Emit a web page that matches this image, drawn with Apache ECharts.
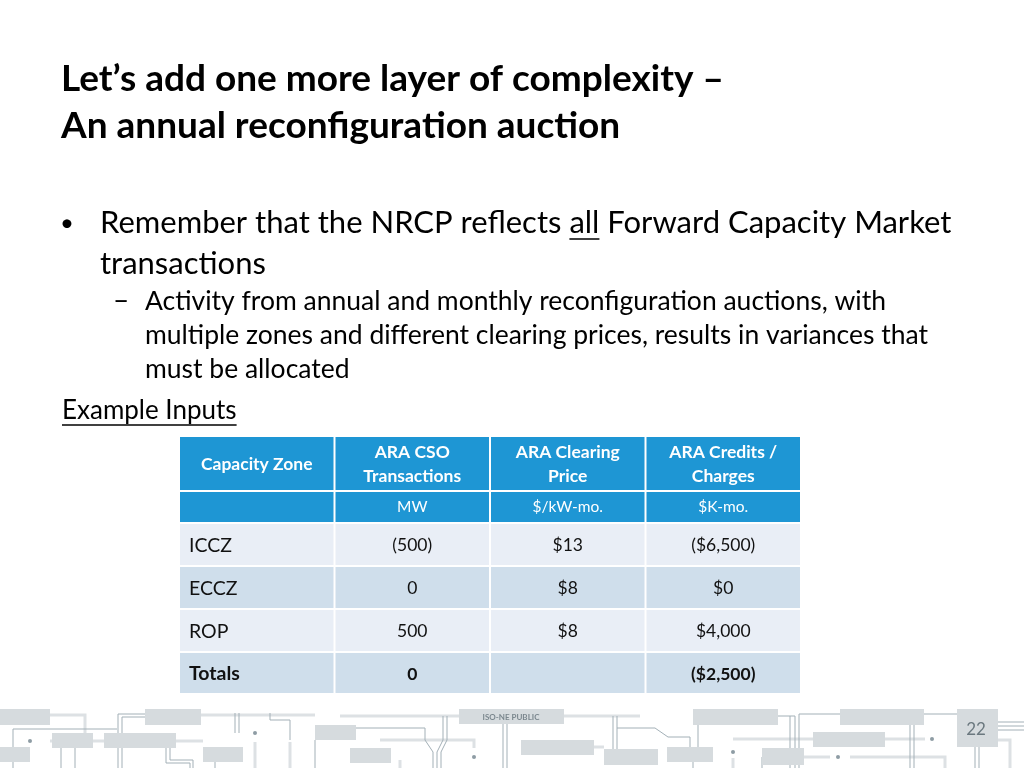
<!DOCTYPE html>
<html><head><meta charset="utf-8">
<script src="https://cdn.jsdelivr.net/npm/echarts@6/dist/echarts.min.js"></script>
<style>html,body{margin:0;padding:0;background:#fff}#c{width:1024px;height:768px}</style>
</head><body><div id="c"></div>
<script>
// ---- data ----
const columns = ['Capacity Zone', 'ARA CSO\nTransactions', 'ARA Clearing\nPrice', 'ARA Credits /\nCharges'];
const units = ['', 'MW', '$/kW-mo.', '$K-mo.'];
const zones = ['ICCZ', 'ECCZ', 'ROP', 'Totals'];
const csoMW = [-500, 0, 500, 0];
const clearingPrice = [13, 8, 8, null];
const credits = [-6500, 0, 4000, -2500];

// ---- layout ----
const FONT = 'Lato, "Open Sans", sans-serif';
const rowHeights = [55, 32, 43, 43, 43, 42];
const rowTop = [];
rowHeights.reduce((a, h, i) => { rowTop[i] = a; return a + h; }, 0);
const totalH = rowHeights.reduce((a, b) => a + b, 0);

function fmtMW(v) { return v < 0 ? '(' + Math.abs(v).toLocaleString('en-US') + ')' : v.toLocaleString('en-US'); }
function fmtPrice(v) { return v == null ? '' : '$' + v.toLocaleString('en-US'); }
function fmtMoney(v) { return v < 0 ? '($' + Math.abs(v).toLocaleString('en-US') + ')' : '$' + v.toLocaleString('en-US'); }

const cells = [];
columns.forEach((t, c) => cells.push({ value: [c, 0], text: t, kind: 'head' }));
units.forEach((t, c) => cells.push({ value: [c, 1], text: t, kind: 'unit' }));
zones.forEach((z, i) => {
  const r = i + 2, total = z === 'Totals';
  const k = total ? 'total' : 'body';
  cells.push({ value: [0, r], text: z, kind: k, first: true });
  cells.push({ value: [1, r], text: fmtMW(csoMW[i]), kind: k });
  cells.push({ value: [2, r], text: fmtPrice(clearingPrice[i]), kind: k });
  cells.push({ value: [3, r], text: fmtMoney(credits[i]), kind: k });
});
const rowFill = ['#1E96D4', '#1E96D4', '#E9EEF6', '#CFDEEB', '#E9EEF6', '#CFDEEB'];

function renderItem(params, api) {
  const c = api.value(0), r = api.value(1);
  const d = cells[params.dataIndex];
  const p0 = api.coord([c, rowTop[r]]);
  const p1 = api.coord([c, rowTop[r] + rowHeights[r]]);
  const w = api.size([1, 0])[0];
  const x = p0[0] - w / 2, y = p0[1], h = p1[1] - p0[1];
  let ts;
  if (d.kind === 'head') ts = { font: 'bold 17.5px ' + FONT, fill: '#fff', lineHeight: 24 };
  else if (d.kind === 'unit') ts = { font: '15.5px ' + FONT, fill: '#fff' };
  else if (d.first) ts = { font: (d.kind === 'total' ? 'bold ' : '') + '19.5px ' + FONT, fill: '#111' };
  else ts = { font: (d.kind === 'total' ? 'bold ' : '') + '17.5px ' + FONT, fill: '#111' };
  const left = d.first && d.kind !== 'head';
  const dy = d.kind === 'head' ? 1 : (d.kind === 'unit' ? 0 : 1);
  return {
    type: 'group',
    children: [
      { type: 'rect', shape: { x: x + 1, y: y + 1, width: w - 2, height: h - 2 }, style: { fill: rowFill[r] } },
      { type: 'text', style: Object.assign({
          text: d.text, x: left ? x + 10 : x + w / 2, y: y + h / 2 + dy,
          align: left ? 'left' : 'center', verticalAlign: 'middle' }, ts) }
    ]
  };
}

// ---- measure helpers ----
const mctx = document.createElement('canvas').getContext('2d');
function tw(txt, font) { mctx.font = font; return mctx.measureText(txt).width; }

const titleFont = 'bold 37px ' + FONT;
const b1Font = '31px ' + FONT;
const b2Font = '26.5px ' + FONT;
const exFont = '26px ' + FONT;
const pre = 'Remember that the NRCP reflects ';
const preW = tw(pre, b1Font), allW = tw('all', b1Font);
const exW = tw('Example Inputs', exFont);

const graphics = [
  { type: 'text', style: { text: 'Let\u2019s add one more layer of complexity \u2013', x: 61, y: 79, font: titleFont, fill: '#000', verticalAlign: 'middle' } },
  { type: 'text', style: { text: 'An annual reconfiguration auction', x: 61, y: 126, font: titleFont, fill: '#000', verticalAlign: 'middle' } },
  { type: 'text', style: { text: '\u2022', x: 60, y: 223, font: '24px ' + FONT, fill: '#000', verticalAlign: 'middle' } },
  { type: 'text', style: { text: pre + 'all Forward Capacity Market', x: 100, y: 223, font: b1Font, fill: '#000', verticalAlign: 'middle' } },
  { type: 'line', shape: { x1: 100 + preW, y1: 239, x2: 100 + preW + allW, y2: 239 }, style: { stroke: '#000', lineWidth: 1.5 } },
  { type: 'text', style: { text: 'transactions', x: 100, y: 264, font: b1Font, fill: '#000', verticalAlign: 'middle' } },
  { type: 'text', style: { text: '\u2013', x: 113, y: 301, font: '28px ' + FONT, fill: '#000', verticalAlign: 'middle' } },
  { type: 'text', style: { text: 'Activity from annual and monthly reconfiguration auctions, with', x: 145, y: 301, font: b2Font, fill: '#000', verticalAlign: 'middle' } },
  { type: 'text', style: { text: 'multiple zones and different clearing prices, results in variances that', x: 145, y: 335, font: b2Font, fill: '#000', verticalAlign: 'middle' } },
  { type: 'text', style: { text: 'must be allocated', x: 145, y: 369, font: b2Font, fill: '#000', verticalAlign: 'middle' } },
  { type: 'text', style: { text: 'Example Inputs', x: 62, y: 411, font: exFont, fill: '#000', verticalAlign: 'middle' } },
  { type: 'line', shape: { x1: 62, y1: 425, x2: 62 + exW, y2: 425 }, style: { stroke: '#000', lineWidth: 1.3 } }
];

// ---- footer decoration ----
const LIGHT = '#DDE1E4', DARK = '#A3B0B7', BOX = '#D6DBDE';
const fLight = [
  [[50, 741], [75, 741]], [[93, 741], [104, 741]], [[175, 741], [203, 741]],
  [[200, 715], [315, 715]], [[50, 715], [85, 715], [85, 733]],
  [[340, 716], [459, 716]], [[564, 716], [640, 716]], [[380, 740], [474, 740], [474, 748]],
  [[255, 742], [255, 768]], [[290, 742], [290, 768]],
  [[733, 739], [813, 739]], [[885, 739], [925, 739]], [[804, 757], [830, 757]], [[850, 757], [945, 757], [945, 768]],
  [[733, 758], [733, 768]], [[998, 740], [1010, 740], [1010, 768]], [[594, 747], [604, 747]], [[400, 760], [400, 768]]
];
const fDark = [
  [[13, 768], [13, 729], [117, 729]], [[118, 768], [118, 714], [145, 714]], [[122, 768], [122, 717], [145, 717]],
  [[61, 748], [61, 768]], [[75, 748], [75, 768]], [[166, 748], [166, 763], [190, 763], [190, 768]],
  [[170, 748], [170, 760], [193, 760], [193, 768]], [[235, 713], [235, 733]], [[239, 713], [239, 733]],
  [[270, 713], [270, 720], [290, 720], [290, 740]], [[315, 768], [315, 740]],
  [[340, 728], [425, 728], [425, 740], [433, 752], [433, 768]], [[443, 716], [443, 740], [437, 752], [437, 768]],
  [[447, 716], [447, 740], [441, 752], [441, 768]], [[503, 724], [503, 768]], [[507, 724], [507, 768]],
  [[613, 716], [613, 749]], [[617, 716], [617, 749]], [[617, 728], [655, 728], [668, 737], [690, 737], [690, 747]],
  [[698, 725], [698, 747]], [[693, 768], [693, 762]], [[778, 716], [795, 716], [795, 768]], [[790, 716], [790, 768]],
  [[799, 714], [840, 714]], [[799, 714], [799, 768]], [[924, 714], [957, 714]], [[910, 725], [910, 768]], [[914, 725], [914, 768]],
  [[975, 747], [975, 768]], [[979, 747], [979, 768]], [[998, 722], [1024, 722]], [[998, 726], [1024, 726]], [[998, 730], [1024, 730]],
  [[762, 768], [762, 757]], [[215, 768], [215, 748]]
];
const fBoxes = [
  [0, 709, 50, 16], [145, 709, 56, 16], [52, 733, 41, 15], [104, 733, 72, 15], [0, 747, 30, 15], [203, 747, 40, 15],
  [315, 725, 41, 15], [350, 748, 41, 15], [521, 740, 73, 15], [604, 749, 54, 16], [667, 747, 46, 15],
  [693, 709, 85, 16], [840, 709, 84, 16], [813, 732, 72, 15], [762, 748, 42, 17]
];
fLight.forEach(p => graphics.push({ type: 'polyline', shape: { points: p }, style: { stroke: LIGHT, lineWidth: 3, fill: null } }));
fDark.forEach(p => graphics.push({ type: 'polyline', shape: { points: p }, style: { stroke: DARK, lineWidth: 1, fill: null } }));
fBoxes.forEach(b => graphics.push({ type: 'rect', shape: { x: b[0], y: b[1], width: b[2], height: b[3] }, style: { fill: BOX } }));
[[30, 741], [255, 733], [474, 757], [733, 752], [838, 757], [932, 739]].forEach(p =>
  graphics.push({ type: 'circle', shape: { cx: p[0], cy: p[1], r: 2 }, style: { fill: '#8E9CA4' } }));
graphics.push({ type: 'rect', shape: { x: 459, y: 709, width: 105, height: 15 }, style: { fill: BOX } });
graphics.push({ type: 'text', style: { text: 'ISO-NE PUBLIC', x: 511, y: 717, font: 'bold 8px ' + FONT, fill: '#7B878E', align: 'center', verticalAlign: 'middle' } });
graphics.push({ type: 'rect', shape: { x: 957, y: 709, width: 41, height: 38 }, style: { fill: BOX } });
graphics.push({ type: 'text', style: { text: '22', x: 976, y: 730, font: '17px ' + FONT, fill: '#6B787F', align: 'center', verticalAlign: 'middle' } });

const chart = echarts.init(document.getElementById('c'));
chart.setOption({
  backgroundColor: '#fff',
  animation: false,
  grid: { left: 179, top: 436, width: 622, height: totalH },
  xAxis: { type: 'category', data: columns, show: false },
  yAxis: { type: 'value', min: 0, max: totalH, inverse: true, show: false },
  series: [{ type: 'custom', renderItem: renderItem, data: cells, silent: true }],
  graphic: graphics
});
</script></body></html>
